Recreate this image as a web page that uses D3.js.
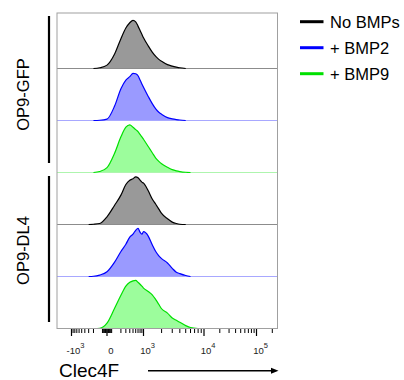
<!DOCTYPE html>
<html><head><meta charset="utf-8">
<script src="https://cdn.jsdelivr.net/npm/d3@7"></script>
<style>body{margin:0;background:#fff;} svg{display:block;font-family:Arial,"Liberation Sans",sans-serif;}</style>
</head><body><svg id="c" width="404" height="380"></svg>
<script>
// ---- data ----
const groups = ["OP9-GFP", "OP9-DL4"];
const treatments = ["No BMPs", "+ BMP2", "+ BMP9"];
const bins = [-600,-400,-300,-200,-100,0,100,200,300,400,500,600,700,800,900,1000,1200,1400,1600,1800,2000,2500,3000,3500,4000,5000,6000,8000];
const gfpNoBMP = [0,0,0,0,1.5,7,30,62,84,95,100,97,88,79,71,64,47,34,25,19,15,8,5,3,1.5,0,0,0];
const gfpBMP2  = [0,0,0,0,0.5,3,30,66,84,91,98,97,93,84,76,69,50,35,24,17,13,6,3.5,2,1,0,0,0];
const gfpBMP9  = [0,0,0,0,2,10,40,74,94,99,94,89,85,79,74,69,54,41,30,23,18,11,6,3.5,2,0.5,0,0];
const dl4NoBMP = [0,0,0,0.5,2,16,40,61,83,92,95,99,97,92,88,86,70,53,42,32,23,12,5,2,0.5,0,0,0];
const dl4BMP2  = [0,0,0,0.5,3,10,30,52,67,82,88,96,100,92,88,93,84,66,52,43,37,28,17,9,6,2,0,0];
const dl4BMP9  = [0,0,0,0,0.5,11,42,69,88,96,99,100,96,92,88,84,77,70,60,50,41,32,22,17,13,6,2,0];
const majorTicks = [-1000, 0, 1000, 10000, 100000];
const majorLabels = [["-10","3"], ["0",""], ["10","3"], ["10","4"], ["10","5"]];
const minorTicks = [-900,-800,-700,-600,-500,-400,-300,-200,
  -60,-50,-40,-30,-20,-10,10,20,30,40,50,60,
  200,300,400,500,600,700,800,900,
  2000,3000,4000,5000,6000,7000,8000,9000,
  20000,30000,40000,50000,60000,70000,80000,90000,200000];

const samples = [
  {g:0, t:0, vals:gfpNoBMP}, {g:0, t:1, vals:gfpBMP2}, {g:0, t:2, vals:gfpBMP9},
  {g:1, t:0, vals:dl4NoBMP}, {g:1, t:1, vals:dl4BMP2}, {g:1, t:2, vals:dl4BMP9}
];
const strokeCol = ["#000000", "#0000ff", "#00e000"];
const fillCol = ["#999999", "#9a9aff", "#9cfd9c"];
const baseCol = ["#8c8c8c", "#a8a8ff", "#aef5ae"];

// ---- scales ----
const svg = d3.select("#c");
const L = 57, R = 277.5, TOP = 13, BOT = 328.5;
const T = v => Math.asinh(v / 200);
const xs = d3.scaleLinear().domain([-1000, 0, 1000, 10000, 100000].map(T)).range([71.5, 107, 143.5, 204, 256.5]);
const X = v => xs(T(v));
const row = d3.scaleBand().domain(d3.range(6)).range([16.5, BOT]).paddingInner(0);
const y = d3.scaleLinear().domain([0, 108]).range([row.bandwidth(), 0]);

svg.append("clipPath").attr("id","pc").append("rect")
  .attr("x", L).attr("y", TOP).attr("width", R - L).attr("height", BOT - TOP);

const plot = svg.append("g").attr("clip-path","url(#pc)");
samples.forEach((s, i) => {
  const pts = bins.map((b, k) => ({v:b, h:s.vals[k]}));
  const g = plot.append("g").attr("transform", `translate(0,${row(i)})`);
  const area = d3.area().x(d => X(d.v)).y0(y(0)).y1(d => y(d.h)).curve(d3.curveMonotoneX);
  const line = d3.line().x(d => X(d.v)).y(d => y(d.h)).curve(d3.curveMonotoneX);
  g.append("path").attr("d", area(pts)).attr("fill", fillCol[s.t]);
  g.append("line").attr("x1", L).attr("x2", R).attr("y1", y(0)).attr("y2", y(0))
    .attr("stroke", baseCol[s.t]).attr("stroke-width", 1);
  const nz = pts.filter((d, k) => d.h > 0 || (pts[k+1] && pts[k+1].h > 0) || (pts[k-1] && pts[k-1].h > 0));
  g.append("path").attr("d", line(nz)).attr("fill", "none")
    .attr("stroke", strokeCol[s.t]).attr("stroke-width", 1.2).attr("stroke-linejoin","round");
});

// frame
svg.append("rect").attr("x", L).attr("y", TOP).attr("width", R - L).attr("height", BOT - TOP)
  .attr("fill", "none").attr("stroke", "#a0a0a0").attr("stroke-width", 1);

// x ticks
const ax = svg.append("g");
ax.selectAll("line.mi").data(minorTicks).join("line").attr("class","mi")
  .attr("x1", d => X(d)).attr("x2", d => X(d)).attr("y1", BOT + 0.5).attr("y2", BOT + 4.5)
  .attr("stroke", "#000").attr("stroke-width", 1);
ax.selectAll("line.ma").data(majorTicks).join("line").attr("class","ma")
  .attr("x1", d => X(d)).attr("x2", d => X(d)).attr("y1", BOT + 0.5).attr("y2", BOT + 7.5)
  .attr("stroke", "#000").attr("stroke-width", 1.2);
majorTicks.forEach((t, i) => {
  const tx = ax.append("text").attr("x", X(t) + 4).attr("y", 354).attr("text-anchor","middle")
    .attr("font-size", 9.5).attr("fill", "#222");
  tx.append("tspan").text(majorLabels[i][0]);
  if (majorLabels[i][1]) tx.append("tspan").attr("dy", -6).attr("font-size", 7.5).text(majorLabels[i][1]);
});

// x axis title + arrow
svg.append("text").attr("x", 59).attr("y", 376.5).attr("font-size", 19).attr("fill","#000").text("Clec4F");
svg.append("line").attr("x1", 148).attr("x2", 272).attr("y1", 370.7).attr("y2", 370.7)
  .attr("stroke", "#000").attr("stroke-width", 1.4);
svg.append("path").attr("d", "M271,367.7 L278.5,370.7 L271,373.7 Z").attr("fill", "#000");

// group brackets + labels
const gRange = [[16, 163], [176, 322]];
groups.forEach((g, i) => {
  svg.append("line").attr("x1", 49).attr("x2", 49).attr("y1", gRange[i][0]).attr("y2", gRange[i][1])
    .attr("stroke", "#000").attr("stroke-width", 2.2);
  const cy = (row(i*3) + row(i*3+2) + row.bandwidth()) / 2;
  svg.append("text").attr("transform", `translate(29,${cy}) rotate(-90)`)
    .attr("text-anchor","middle").attr("font-size", 16.5).attr("fill","#000").text(g);
});

// legend
treatments.forEach((t, i) => {
  const ly = 21.7 + i * 26;
  svg.append("line").attr("x1", 300).attr("x2", 323.5).attr("y1", ly).attr("y2", ly)
    .attr("stroke", strokeCol[i]).attr("stroke-width", 3);
  svg.append("text").attr("x", 330).attr("y", ly + 6).attr("font-size", 16.5).attr("fill","#000").text(t);
});
</script></body></html>
